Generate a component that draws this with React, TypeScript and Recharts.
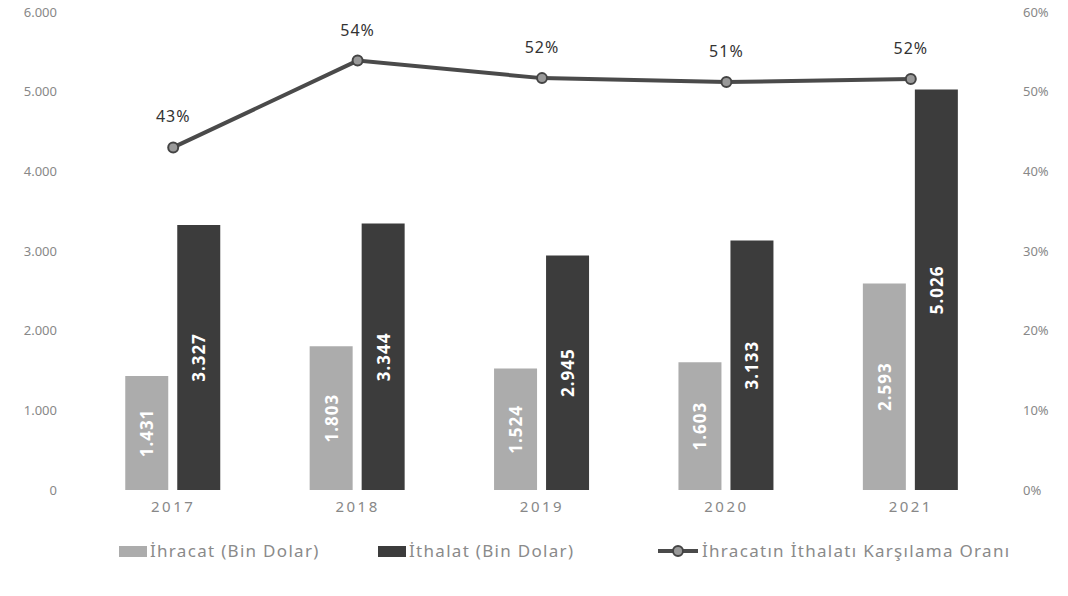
import React from 'react';
import { ComposedChart, Bar, Line, XAxis, YAxis, LabelList } from 'recharts';

const years = ['2017', '2018', '2019', '2020', '2021'];
const exportValues = [1431, 1803, 1524, 1603, 2593];
const importValues = [3327, 3344, 2945, 3133, 5026];
const ratioValues = [43.0, 53.9, 51.7, 51.2, 51.6];
const ratioLabels = ['43%', '54%', '52%', '51%', '52%'];
const leftTicks = [0, 1000, 2000, 3000, 4000, 5000, 6000];
const rightTicks = [0, 10, 20, 30, 40, 50, 60];
const legendLabels = ['İhracat (Bin Dolar)', 'İthalat (Bin Dolar)', 'İhracatın İthalatı Karşılama Oranı'];

const data = years.map((y, i) => ({
  year: y,
  ihracat: exportValues[i],
  ithalat: importValues[i],
  oran: ratioValues[i],
}));

const FONT = '"Noto Sans", "Open Sans", sans-serif';
const EXPORT_COLOR = '#acacac';
const IMPORT_COLOR = '#3c3c3c';
const LINE_COLOR = '#4a4a4a';

const fmt = (v: number) => {
  const s = String(Math.round(v));
  return s.replace(/\B(?=(\d{3})+(?!\d))/g, '.');
};

const BarLabel = (props: any) => {
  const { x, y, width, height, value } = props;
  const cx = Number(x) + Number(width) / 2;
  const cy = Number(y) + Number(height) / 2;
  return (
    <text
      x={cx}
      y={cy}
      transform={`rotate(-90 ${cx} ${cy})`}
      textAnchor="middle"
      dominantBaseline="central"
      fill="#ffffff"
      fontSize={17}
      fontWeight={700}
      letterSpacing={1}
      fontFamily={FONT}
    >
      {fmt(Number(value))}
    </text>
  );
};

const LineLabel = (props: any) => {
  const { x, y, index } = props;
  return (
    <text
      x={x}
      y={Number(y) - 25}
      textAnchor="middle"
      fill="#333333"
      fontSize={16}
      letterSpacing={1}
      fontFamily={FONT}
    >
      {ratioLabels[index]}
    </text>
  );
};

const LegendBox = () => (
  <div style={{ position: 'absolute', left: 0, top: 539, width: 1068, height: 26, fontFamily: FONT, fontSize: 17, letterSpacing: 1.3, color: '#8a8a8a', lineHeight: '24px' }}>
    <div style={{ position: 'absolute', left: 119, top: 7, width: 28, height: 11, background: EXPORT_COLOR }} />
    <span style={{ position: 'absolute', left: 150, top: 0, whiteSpace: 'nowrap' }}>{legendLabels[0]}</span>
    <div style={{ position: 'absolute', left: 378, top: 7, width: 28, height: 11, background: IMPORT_COLOR }} />
    <span style={{ position: 'absolute', left: 409, top: 0, whiteSpace: 'nowrap' }}>{legendLabels[1]}</span>
    <svg style={{ position: 'absolute', left: 658, top: 4 }} width={40} height={16}>
      <line x1={0} y1={8} x2={40} y2={8} stroke={LINE_COLOR} strokeWidth={4} />
      <circle cx={20} cy={8} r={5} fill="#999" stroke="#444" strokeWidth={2} />
    </svg>
    <span style={{ position: 'absolute', left: 702, top: 0, whiteSpace: 'nowrap' }}>{legendLabels[2]}</span>
  </div>
);

export default function App() {
  return (
    <div style={{ position: 'absolute', left: 0, top: 0, width: 1068, height: 596, background: '#fff' }}>
      <ComposedChart
        width={1068}
        height={596}
        data={data}
        margin={{ top: 12, right: 0, left: 0, bottom: 56 }}
        barCategoryGap="24%"
        barGap={9}
      >
        <XAxis
          dataKey="year"
          axisLine={false}
          tickLine={false}
          height={50}
          tick={{ fill: '#888', fontSize: 15, letterSpacing: 2.5, fontFamily: FONT }}
          tickMargin={5}
        />
        <YAxis
          yAxisId="left"
          orientation="left"
          width={81}
          domain={[0, 6000]}
          ticks={leftTicks}
          axisLine={false}
          tickLine={false}
          tickFormatter={(v: number) => fmt(v)}
          tick={{ fill: '#888', fontSize: 13, fontFamily: FONT, dx: -16 }}
        />
        <YAxis
          yAxisId="right"
          orientation="right"
          width={65}
          domain={[0, 60]}
          ticks={rightTicks}
          axisLine={false}
          tickLine={false}
          tickFormatter={(v: number) => `${v}%`}
          tick={{ fill: '#888', fontSize: 13, fontFamily: FONT, dx: 12 }}
        />
        <Bar yAxisId="left" dataKey="ihracat" name={legendLabels[0]} fill={EXPORT_COLOR} isAnimationActive={false}>
          <LabelList dataKey="ihracat" content={BarLabel} />
        </Bar>
        <Bar yAxisId="left" dataKey="ithalat" name={legendLabels[1]} fill={IMPORT_COLOR} isAnimationActive={false}>
          <LabelList dataKey="ithalat" content={BarLabel} />
        </Bar>
        <Line
          yAxisId="right"
          dataKey="oran"
          name={legendLabels[2]}
          stroke={LINE_COLOR}
          strokeWidth={4}
          dot={{ r: 5, fill: '#999', stroke: '#444', strokeWidth: 2 }}
          isAnimationActive={false}
        >
          <LabelList dataKey="oran" content={LineLabel} />
        </Line>
      </ComposedChart>
      <LegendBox />
    </div>
  );
}
